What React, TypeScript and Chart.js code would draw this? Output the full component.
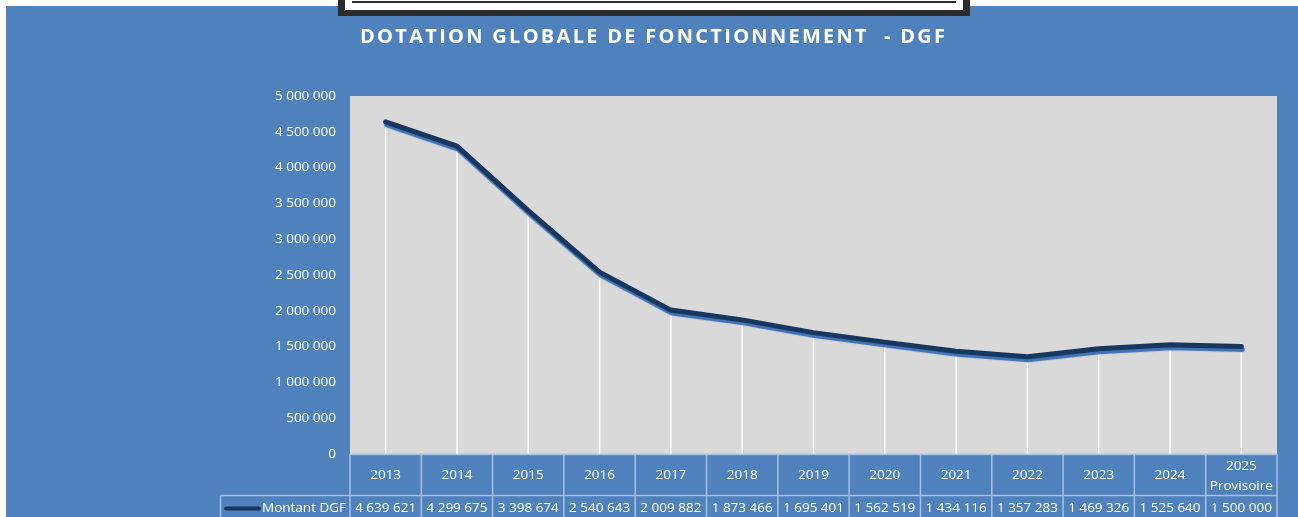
import React, { useEffect, useRef } from 'react';
import { Chart, registerables } from 'chart.js';

Chart.register(...registerables);

// ---- Data ----
const categories: string[] = [
  '2013', '2014', '2015', '2016', '2017', '2018', '2019',
  '2020', '2021', '2022', '2023', '2024', '2025\nProvisoire',
];
const montantDGF: number[] = [
  4639621, 4299675, 3398674, 2540643, 2009882, 1873466, 1695401,
  1562519, 1434116, 1357283, 1469326, 1525640, 1500000,
];
const seriesLabel = 'Montant DGF';
const chartTitle = 'DOTATION GLOBALE DE FONCTIONNEMENT  - DGF';
const yMin = 0;
const yMax = 5000000;
const yStep = 500000;

// ---- Styles ----
const BLUE = '#4F81BD';
const PLOT = '#D9D9D9';
const LINE = '#17375E';
const SHADOW = '#3E71B6';
const GRID = '#A7BFE1';
const FONT = "'Open Sans', sans-serif";

const fmt = (n: number) => String(n).replace(/\B(?=(\d{3})+(?!\d))/g, ' ');

const decorPlugin = {
  id: 'decor',
  beforeDraw(chart: any) {
    const { ctx, width, height, chartArea: a } = chart;
    ctx.save();
    ctx.fillStyle = '#ffffff';
    ctx.fillRect(0, 0, width, height);
    ctx.fillStyle = BLUE;
    ctx.fillRect(6, 6, width - 6, height - 6);
    // top frame
    ctx.fillStyle = '#2b2b2b';
    ctx.fillRect(338, 0, 632, 16);
    ctx.fillStyle = '#ffffff';
    ctx.fillRect(345, 0, 618, 10);
    ctx.fillStyle = '#2b2b2b';
    ctx.fillRect(352, 1, 604, 2);
    // title
    ctx.font = `bold 20px ${FONT}`;
    ctx.fillStyle = '#ffffff';
    ctx.textBaseline = 'middle';
    ctx.textAlign = 'left';
    const targetW = 585;
    const w = ctx.measureText(chartTitle).width;
    const sp = Math.max(0, (targetW - w) / (chartTitle.length - 1));
    (ctx as any).letterSpacing = `${sp}px`;
    ctx.fillText(chartTitle, 360, 37);
    (ctx as any).letterSpacing = '0px';
    // plot area
    ctx.fillStyle = PLOT;
    ctx.fillRect(a.left, a.top, a.right - a.left, a.bottom - a.top);
    ctx.restore();
  },
  beforeDatasetsDraw(chart: any) {
    const { ctx, chartArea: a } = chart;
    const meta = chart.getDatasetMeta(0);
    ctx.save();
    ctx.strokeStyle = '#ffffff';
    ctx.lineWidth = 1.5;
    meta.data.forEach((p: any) => {
      ctx.beginPath();
      ctx.moveTo(p.x, p.y - 3);
      ctx.lineTo(p.x, a.bottom);
      ctx.stroke();
    });
    ctx.restore();
  },
  beforeDatasetDraw(chart: any) {
    const { ctx } = chart;
    ctx.save();
    ctx.shadowColor = SHADOW;
    ctx.shadowOffsetX = 1;
    ctx.shadowOffsetY = 3;
    ctx.shadowBlur = 1;
  },
  afterDatasetDraw(chart: any) {
    chart.ctx.restore();
  },
  afterDraw(chart: any) {
    const { ctx, chartArea: a, height } = chart;
    const xs = chart.scales.x;
    const half = (xs.getPixelForValue(1) - xs.getPixelForValue(0)) / 2;
    const rowTop = a.bottom;
    const rowMid = rowTop + 41.5;
    const legendLeft = 220.5;
    ctx.save();
    ctx.strokeStyle = GRID;
    ctx.lineWidth = 1.5;
    // horizontal lines
    ctx.beginPath();
    ctx.moveTo(a.left, rowTop + 0.5);
    ctx.lineTo(a.right, rowTop + 0.5);
    ctx.moveTo(legendLeft, rowMid);
    ctx.lineTo(a.right, rowMid);
    ctx.stroke();
    // vertical lines
    ctx.beginPath();
    ctx.moveTo(legendLeft, rowMid);
    ctx.lineTo(legendLeft, height);
    for (let i = 0; i <= categories.length; i++) {
      const x = i < categories.length ? xs.getPixelForValue(i) - half : xs.getPixelForValue(i - 1) + half;
      ctx.moveTo(x, rowTop);
      ctx.lineTo(x, height);
    }
    ctx.stroke();
    // category labels
    ctx.fillStyle = '#ffffff';
    ctx.font = `13.5px ${FONT}`;
    ctx.textAlign = 'center';
    ctx.textBaseline = 'middle';
    categories.forEach((c, i) => {
      const x = xs.getPixelForValue(i);
      const lines = c.split('\n');
      if (lines.length === 1) {
        ctx.fillText(lines[0], x, rowTop + 21);
      } else {
        ctx.fillText(lines[0], x, rowTop + 12);
        ctx.fillText(lines[1], x, rowTop + 32);
      }
    });
    // values row
    const vy = rowMid + 12.5;
    montantDGF.forEach((v, i) => {
      ctx.fillText(fmt(v), xs.getPixelForValue(i), vy);
    });
    // legend key
    ctx.strokeStyle = LINE;
    ctx.lineWidth = 4;
    ctx.lineCap = 'round';
    ctx.beginPath();
    ctx.moveTo(226, vy + 0.5);
    ctx.lineTo(259, vy + 0.5);
    ctx.stroke();
    ctx.textAlign = 'left';
    ctx.fillText(seriesLabel, 262, vy);
    ctx.restore();
  },
};

export default function App() {
  const ref = useRef<HTMLCanvasElement | null>(null);
  useEffect(() => {
    if (!ref.current) return;
    const chart = new Chart(ref.current, {
      type: 'line',
      data: {
        labels: categories,
        datasets: [
          {
            label: seriesLabel,
            data: montantDGF,
            borderColor: LINE,
            backgroundColor: LINE,
            borderWidth: 5,
            pointRadius: 0,
            tension: 0,
            borderCapStyle: 'round',
            borderJoinStyle: 'round',
          },
        ],
      },
      options: {
        animation: false,
        responsive: false,
        devicePixelRatio: 1,
        layout: { padding: { left: 250, right: 21, top: 96, bottom: 63 } },
        plugins: {
          legend: { display: false },
          tooltip: { enabled: false },
          title: { display: false },
        },
        scales: {
          x: { type: 'category', display: false, offset: true },
          y: {
            min: yMin,
            max: yMax,
            afterFit: (s: any) => { s.width = 100; },
            grid: { display: false, drawTicks: false },
            border: { display: false },
            ticks: {
              stepSize: yStep,
              padding: 14,
              color: '#ffffff',
              font: { family: FONT, size: 13.5 },
              callback: (v: any) => fmt(Number(v)),
            },
          },
        },
      },
      plugins: [decorPlugin],
    });
    return () => chart.destroy();
  }, []);
  return (
    <div style={{ position: 'fixed', left: 0, top: 0, width: 1298, height: 517 }}>
      <canvas ref={ref} width={1298} height={517} style={{ display: 'block' }} />
    </div>
  );
}
